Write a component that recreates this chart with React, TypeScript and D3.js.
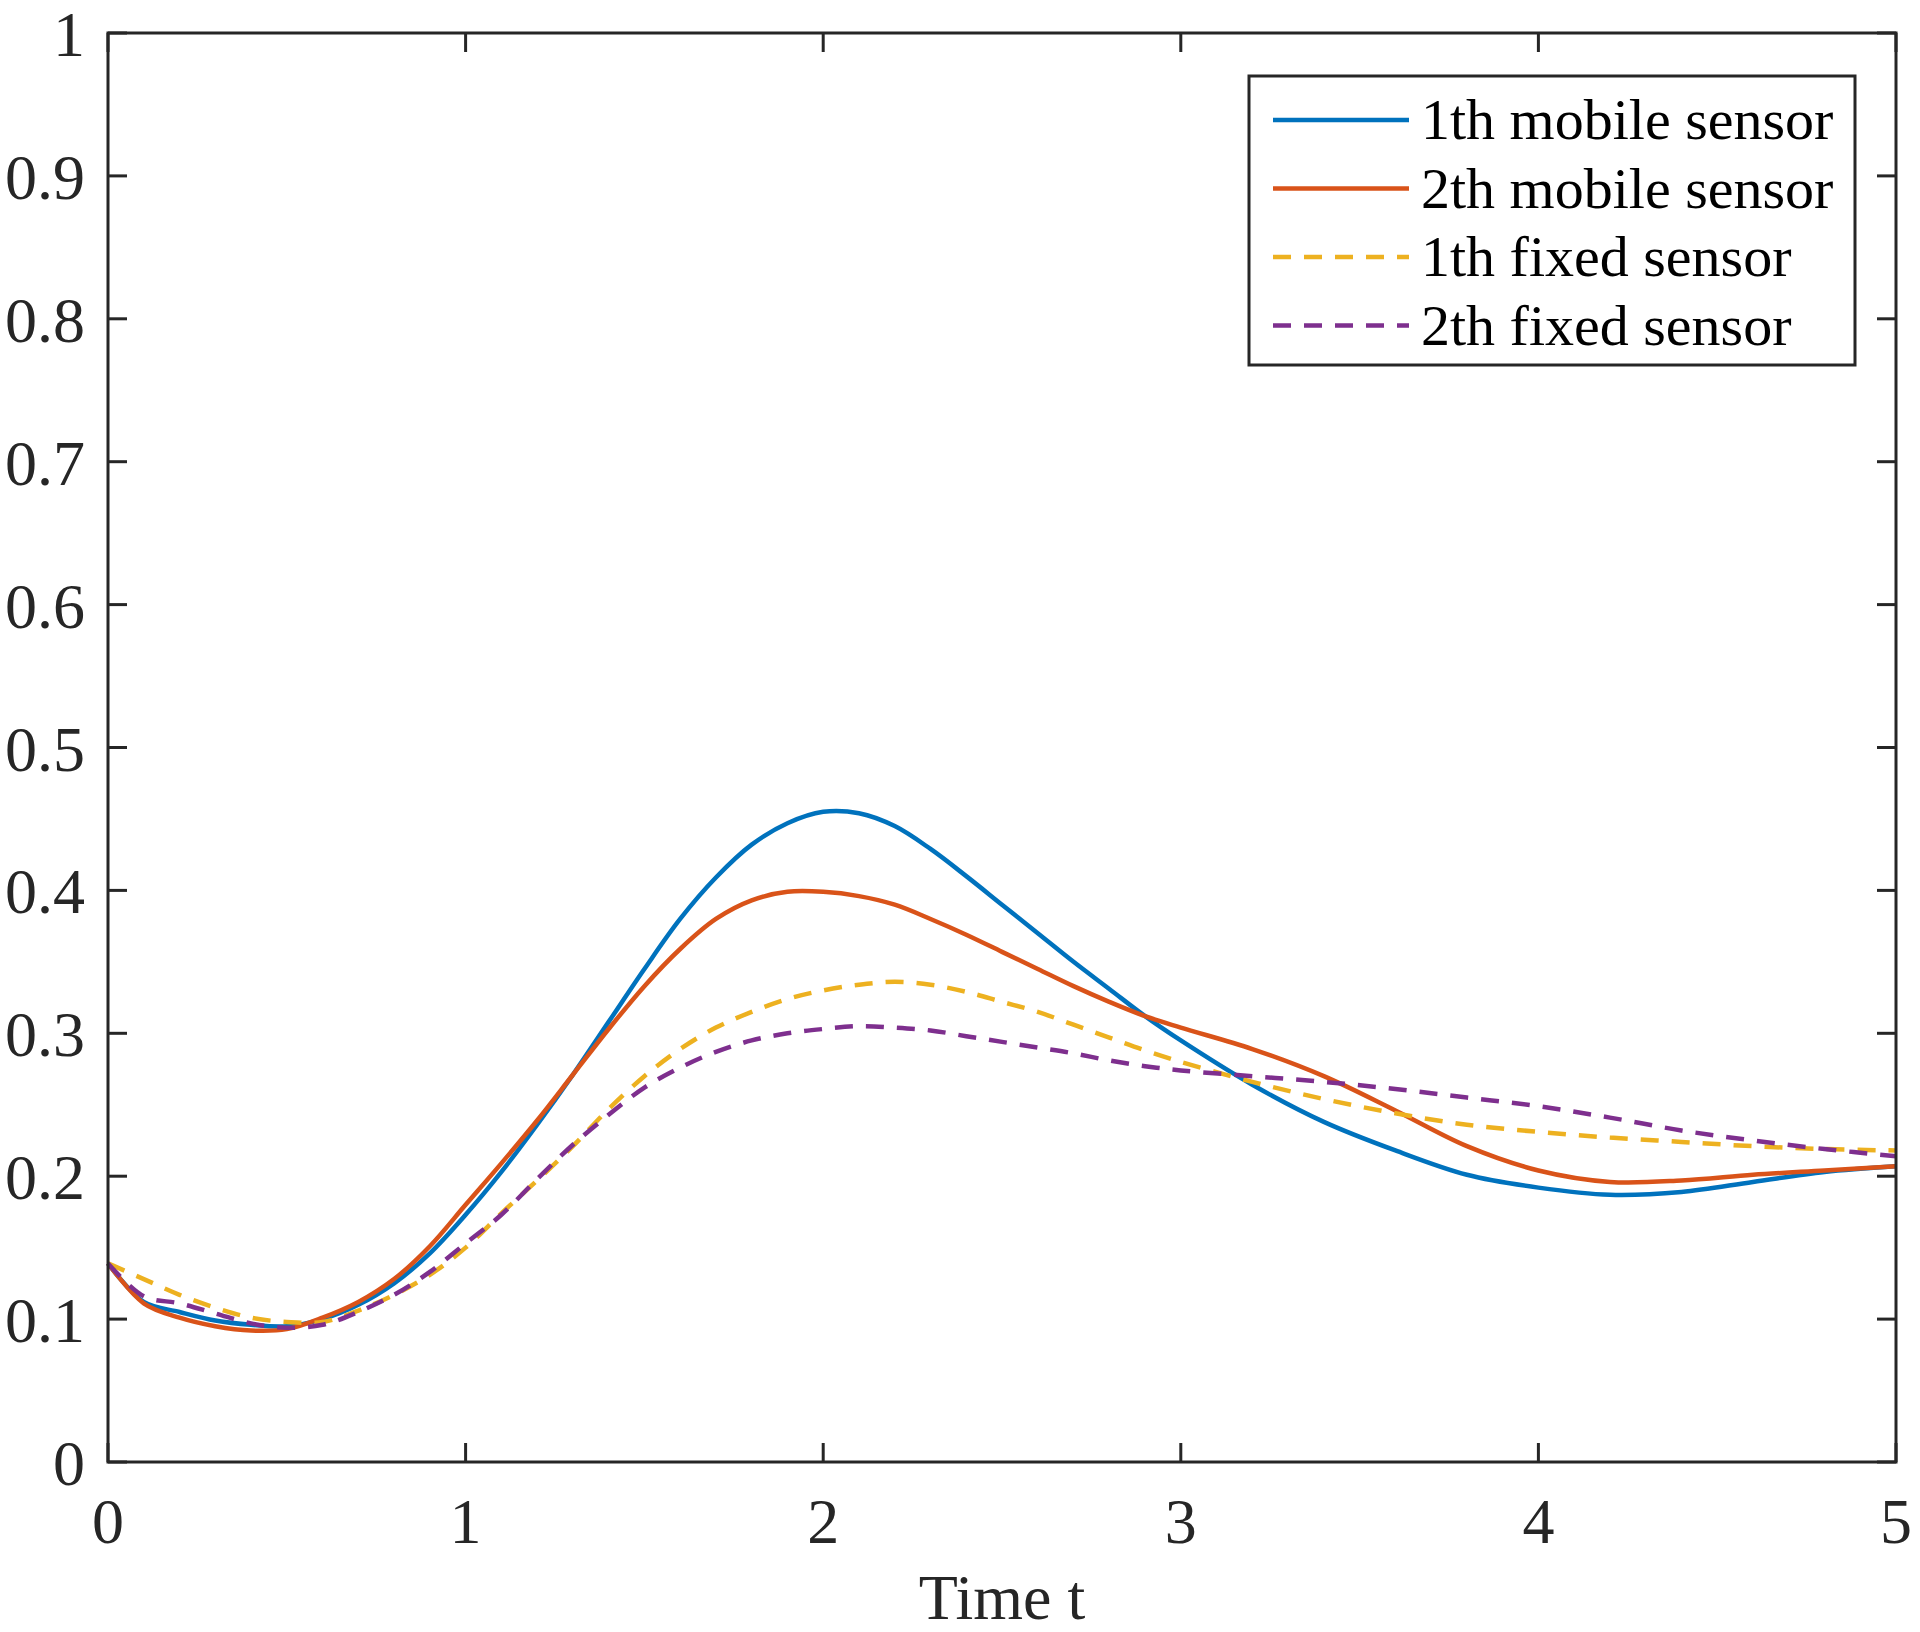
import React from "react";
import * as d3 from "d3";

const timeT = [0, 0.1, 0.2, 0.3, 0.4, 0.5, 0.6, 0.7, 0.8, 0.9, 1.0, 1.1, 1.2, 1.3, 1.4, 1.5, 1.6, 1.7, 1.8, 1.9, 2.0, 2.1, 2.2, 2.3, 2.4, 2.5, 2.6, 2.7, 2.8, 2.9, 3.0, 3.2, 3.4, 3.6, 3.8, 4.0, 4.2, 4.4, 4.6, 4.8, 5.0];

const mobile1 = [0.139, 0.112, 0.105, 0.099, 0.096, 0.095, 0.100, 0.110, 0.125, 0.146, 0.173, 0.203, 0.236, 0.271, 0.308, 0.345, 0.380, 0.409, 0.432, 0.447, 0.455, 0.454, 0.445, 0.429, 0.410, 0.390, 0.370, 0.350, 0.331, 0.312, 0.295, 0.264, 0.238, 0.218, 0.201, 0.192, 0.187, 0.189, 0.196, 0.203, 0.207];

const mobile2 = [0.139, 0.111, 0.101, 0.095, 0.092, 0.093, 0.101, 0.112, 0.128, 0.151, 0.180, 0.209, 0.239, 0.271, 0.303, 0.333, 0.359, 0.380, 0.393, 0.399, 0.399, 0.396, 0.390, 0.380, 0.369, 0.357, 0.345, 0.333, 0.322, 0.312, 0.304, 0.289, 0.270, 0.246, 0.221, 0.204, 0.196, 0.197, 0.201, 0.204, 0.207];

const fixed1 = [0.139, 0.128, 0.117, 0.108, 0.101, 0.098, 0.098, 0.106, 0.117, 0.131, 0.150, 0.174, 0.197, 0.221, 0.247, 0.270, 0.289, 0.304, 0.315, 0.324, 0.330, 0.334, 0.336, 0.334, 0.329, 0.322, 0.315, 0.306, 0.297, 0.288, 0.280, 0.266, 0.254, 0.244, 0.236, 0.231, 0.227, 0.224, 0.221, 0.219, 0.218];

const fixed2 = [0.139, 0.116, 0.111, 0.104, 0.097, 0.094, 0.096, 0.105, 0.117, 0.133, 0.153, 0.173, 0.198, 0.222, 0.243, 0.262, 0.276, 0.287, 0.295, 0.300, 0.303, 0.305, 0.304, 0.302, 0.298, 0.294, 0.290, 0.286, 0.281, 0.277, 0.274, 0.270, 0.266, 0.261, 0.255, 0.249, 0.241, 0.232, 0.225, 0.219, 0.214];

const seriesNames = ["1th mobile sensor", "2th mobile sensor", "1th fixed sensor", "2th fixed sensor"];
const seriesColors = ["#0072BD", "#D95319", "#EDB120", "#7E2F8E"];
const seriesDashed = [false, false, true, true];
const seriesValues = [mobile1, mobile2, fixed1, fixed2];

const xTicks = [0, 1, 2, 3, 4, 5];
const yTicks = [0, 0.1, 0.2, 0.3, 0.4, 0.5, 0.6, 0.7, 0.8, 0.9, 1];
const xLabel = "Time t";

const W = 1920;
const H = 1632;
const L = 108, R = 1896, T = 33, B = 1462;
const FONT = "'Liberation Serif', 'Times New Roman', serif";
const AX = "#262626";

export default function App() {
  const x = d3.scaleLinear().domain([0, 5]).range([L, R]);
  const y = d3.scaleLinear().domain([0, 1]).range([B, T]);
  const line = d3
    .line<number>()
    .x((_, i) => x(timeT[i]))
    .y((d) => y(d))
    .curve(d3.curveCatmullRom.alpha(0.5));
  const tickLen = 19;
  const fmt = (v: number) => (v === 0 || v === 1 ? String(v) : d3.format(".1f")(v));

  const legX = 1249, legY = 76, legW = 606, legH = 289;
  const rowY0 = 120, rowStep = 68.5;

  return (
    <div style={{ position: "absolute", left: 0, top: 0 }}>
      <svg width={W} height={H} style={{ display: "block", background: "#fff" }}>
        <rect x={0} y={0} width={W} height={H} fill="#fff" />
        {seriesValues.map((vals, k) => (
          <path
            key={k}
            d={line(vals) || ""}
            fill="none"
            stroke={seriesColors[k]}
            strokeWidth={4.5}
            strokeDasharray={seriesDashed[k] ? "18 13" : undefined}
            strokeLinejoin="round"
          />
        ))}
        {xTicks.map((t) => (
          <g key={"xt" + t}>
            <line x1={x(t)} x2={x(t)} y1={B} y2={B - tickLen} stroke={AX} strokeWidth={3} />
            <line x1={x(t)} x2={x(t)} y1={T} y2={T + tickLen} stroke={AX} strokeWidth={3} />
            <text x={x(t)} y={1543} textAnchor="middle" fontFamily={FONT} fontSize={64} fill={AX}>
              {t}
            </text>
          </g>
        ))}
        {yTicks.map((t) => (
          <g key={"yt" + t}>
            <line x1={L} x2={L + tickLen} y1={y(t)} y2={y(t)} stroke={AX} strokeWidth={3} />
            <line x1={R} x2={R - tickLen} y1={y(t)} y2={y(t)} stroke={AX} strokeWidth={3} />
            <text x={85} y={y(t) + 23} textAnchor="end" fontFamily={FONT} fontSize={64} fill={AX}>
              {fmt(t)}
            </text>
          </g>
        ))}
        <rect x={L} y={T} width={R - L} height={B - T} fill="none" stroke={AX} strokeWidth={3} />
        <text x={(L + R) / 2} y={1619} textAnchor="middle" fontFamily={FONT} fontSize={64} fill={AX}>
          {xLabel}
        </text>
        <rect x={legX} y={legY} width={legW} height={legH} fill="#fff" stroke={AX} strokeWidth={3} />
        {seriesNames.map((name, k) => {
          const cy = rowY0 + k * rowStep;
          return (
            <g key={"lg" + k}>
              <line
                x1={1273}
                x2={1409}
                y1={cy}
                y2={cy}
                stroke={seriesColors[k]}
                strokeWidth={4.5}
                strokeDasharray={seriesDashed[k] ? "18 13" : undefined}
              />
              <text x={1421} y={cy + 19} fontFamily={FONT} fontSize={58} fill="#000">
                {name}
              </text>
            </g>
          );
        })}
      </svg>
    </div>
  );
}
